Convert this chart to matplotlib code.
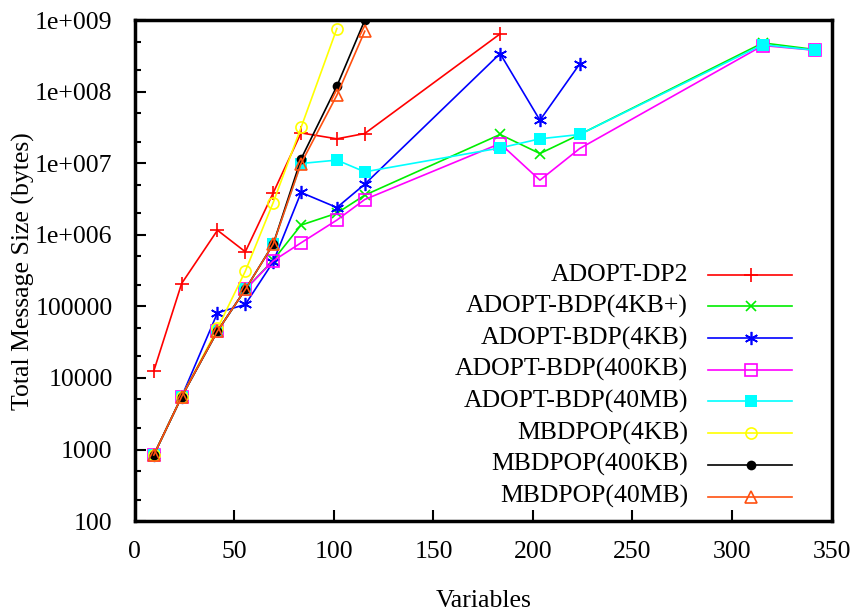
import matplotlib
matplotlib.use("Agg")
import math
import matplotlib.pyplot as plt
from matplotlib.lines import Line2D
from matplotlib.ticker import LogLocator, NullFormatter, FuncFormatter

plt.rcParams['font.family'] = ['Liberation Serif', 'DejaVu Serif']

x_all = [9.5, 23.5, 41.5, 55.5, 69.5, 83.5, 101.5, 115.5, 183.5, 203.5, 223.5, 315.5, 341.5]

dp2_x = [9.5, 23.5, 41.5, 55.5, 69.5, 83.5, 101.5, 115.5, 183.5]
dp2_y = [12500, 209000, 1.16e6, 580000, 3.86e6, 2.66e7, 2.2e7, 2.61e7, 6.44e8]

bdp4p_x = x_all
bdp4p_y = [836, 5460, 45200, 172700, 443000, 1.37e6, 2.01e6, 3.59e6, 2.53e7, 1.37e7, 2.53e7, 4.82e8, 3.9e8]

bdp4_x = [9.5, 23.5, 41.5, 55.5, 69.5, 83.5, 101.5, 115.5, 183.5, 203.5, 223.5]
bdp4_y = [836, 5460, 81300, 106500, 420000, 3.91e6, 2.41e6, 5.11e6, 3.42e8, 4.0e7, 2.45e8]

bdp400_x = x_all
bdp400_y = [836, 5460, 45200, 172700, 433000, 774000, 1.61e6, 3.12e6, 1.89e7, 5.81e6, 1.61e7, 4.43e8, 3.81e8]

bdp40m_x = x_all
bdp40m_y = [836, 5460, 45200, 172700, 741000, 9.94e6, 1.11e7, 7.6e6, 1.64e7, 2.2e7, 2.53e7, 4.57e8, 3.81e8]

mb4_x = [9.5, 23.5, 41.5, 55.5, 69.5, 83.5, 101.5]
mb4_y = [836, 5460, 49200, 311000, 2.83e6, 3.17e7, 7.65e8]

mb400_x = [9.5, 23.5, 41.5, 55.5, 69.5, 83.5, 101.5, 115.5]
mb400_y = [836, 5460, 45200, 172700, 741000, 1.15e7, 1.2e8, 1.0e9]

mb40m_x = [9.5, 23.5, 41.5, 55.5, 69.5, 83.5, 101.5, 115.5]
mb40m_y = [836, 5460, 45200, 172700, 741000, 9.94e6, 8.96e7, 7.02e8]

labels = ["ADOPT-DP2", "ADOPT-BDP(4KB+)", "ADOPT-BDP(4KB)", "ADOPT-BDP(400KB)",
          "ADOPT-BDP(40MB)", "MBDPOP(4KB)", "MBDPOP(400KB)", "MBDPOP(40MB)"]
xs = [dp2_x, bdp4p_x, bdp4_x, bdp400_x, bdp40m_x, mb4_x, mb400_x, mb40m_x]
ys = [dp2_y, bdp4p_y, bdp4_y, bdp400_y, bdp40m_y, mb4_y, mb400_y, mb40m_y]
colors = ['#ff0000', '#00ee00', '#0000ff', '#ff00ff', '#00ffff', '#ffff00', '#000000', '#ff5010']
styles = [
    dict(marker='+', markersize=10, mfc='none', mew=1.2),
    dict(marker='x', markersize=7.5, mfc='none', mew=1.2),
    dict(marker=(6, 2, 0), markersize=9.5, mfc='none', mew=1.2),
    dict(marker='s', markersize=8, mfc='none', mew=1.2),
    dict(marker='s', markersize=8, mew=0),
    dict(marker='o', markersize=8, mfc='none', mew=1.2),
    dict(marker='o', markersize=7, mew=0),
    dict(marker='^', markersize=8, mfc='none', mew=1.2),
]

FS = 18.5

fig = plt.figure(figsize=(8.59, 6.13), dpi=100)
ax = fig.add_axes([0.157, 0.150, 0.811, 0.817])

for x, y, c, st in zip(xs, ys, colors, styles):
    kw = dict(st)
    if 'mfc' not in kw:
        kw['mfc'] = c
    ax.plot(x, y, color=c, lw=1.2, mec=c, **kw)

ax.set_yscale('log')
ax.set_xlim(0, 350)
ax.set_ylim(100, 1e9)
ax.set_xticks([0, 50, 100, 150, 200, 250, 300, 350])
ax.yaxis.set_major_locator(LogLocator(base=10, numticks=20))
ax.yaxis.set_minor_locator(LogLocator(base=10, subs=[2, 5], numticks=20))
ax.yaxis.set_minor_formatter(NullFormatter())

def yfmt(v, pos):
    e = int(round(math.log10(v)))
    if e >= 6:
        return "1e+%03d" % e
    return "%d" % int(round(v))
ax.yaxis.set_major_formatter(FuncFormatter(yfmt))

ax.tick_params(axis='both', which='major', direction='in', length=8, width=1.5,
               labelsize=FS, top=False, right=False)
ax.tick_params(axis='x', which='major', pad=14.5)
ax.tick_params(axis='y', which='major', pad=16)
ax.tick_params(axis='y', which='minor', direction='in', length=4, width=1.5, right=False)
for sp in ax.spines.values():
    sp.set_linewidth(2.5)

ax.set_xlabel("Variables", fontsize=FS, labelpad=19)
ax.set_ylabel("Total Message Size (bytes)", fontsize=FS, labelpad=0)

# manual legend (gnuplot style: right-aligned text, sample line on right)
y0 = 0.492
dy = 0.0633
for i, (lab, c, st) in enumerate(zip(labels, colors, styles)):
    yy = y0 - i * dy
    ax.text(0.794, yy, lab, transform=ax.transAxes, ha='right', va='center', fontsize=FS)
    ax.add_line(Line2D([0.822, 0.944], [yy, yy], transform=ax.transAxes, color=c, lw=1.2))
    kw = dict(st)
    if 'mfc' not in kw:
        kw['mfc'] = c
    ax.add_line(Line2D([0.884], [yy], transform=ax.transAxes, color=c, lw=0, mec=c, **kw))

fig.savefig("out.png", dpi=100)
